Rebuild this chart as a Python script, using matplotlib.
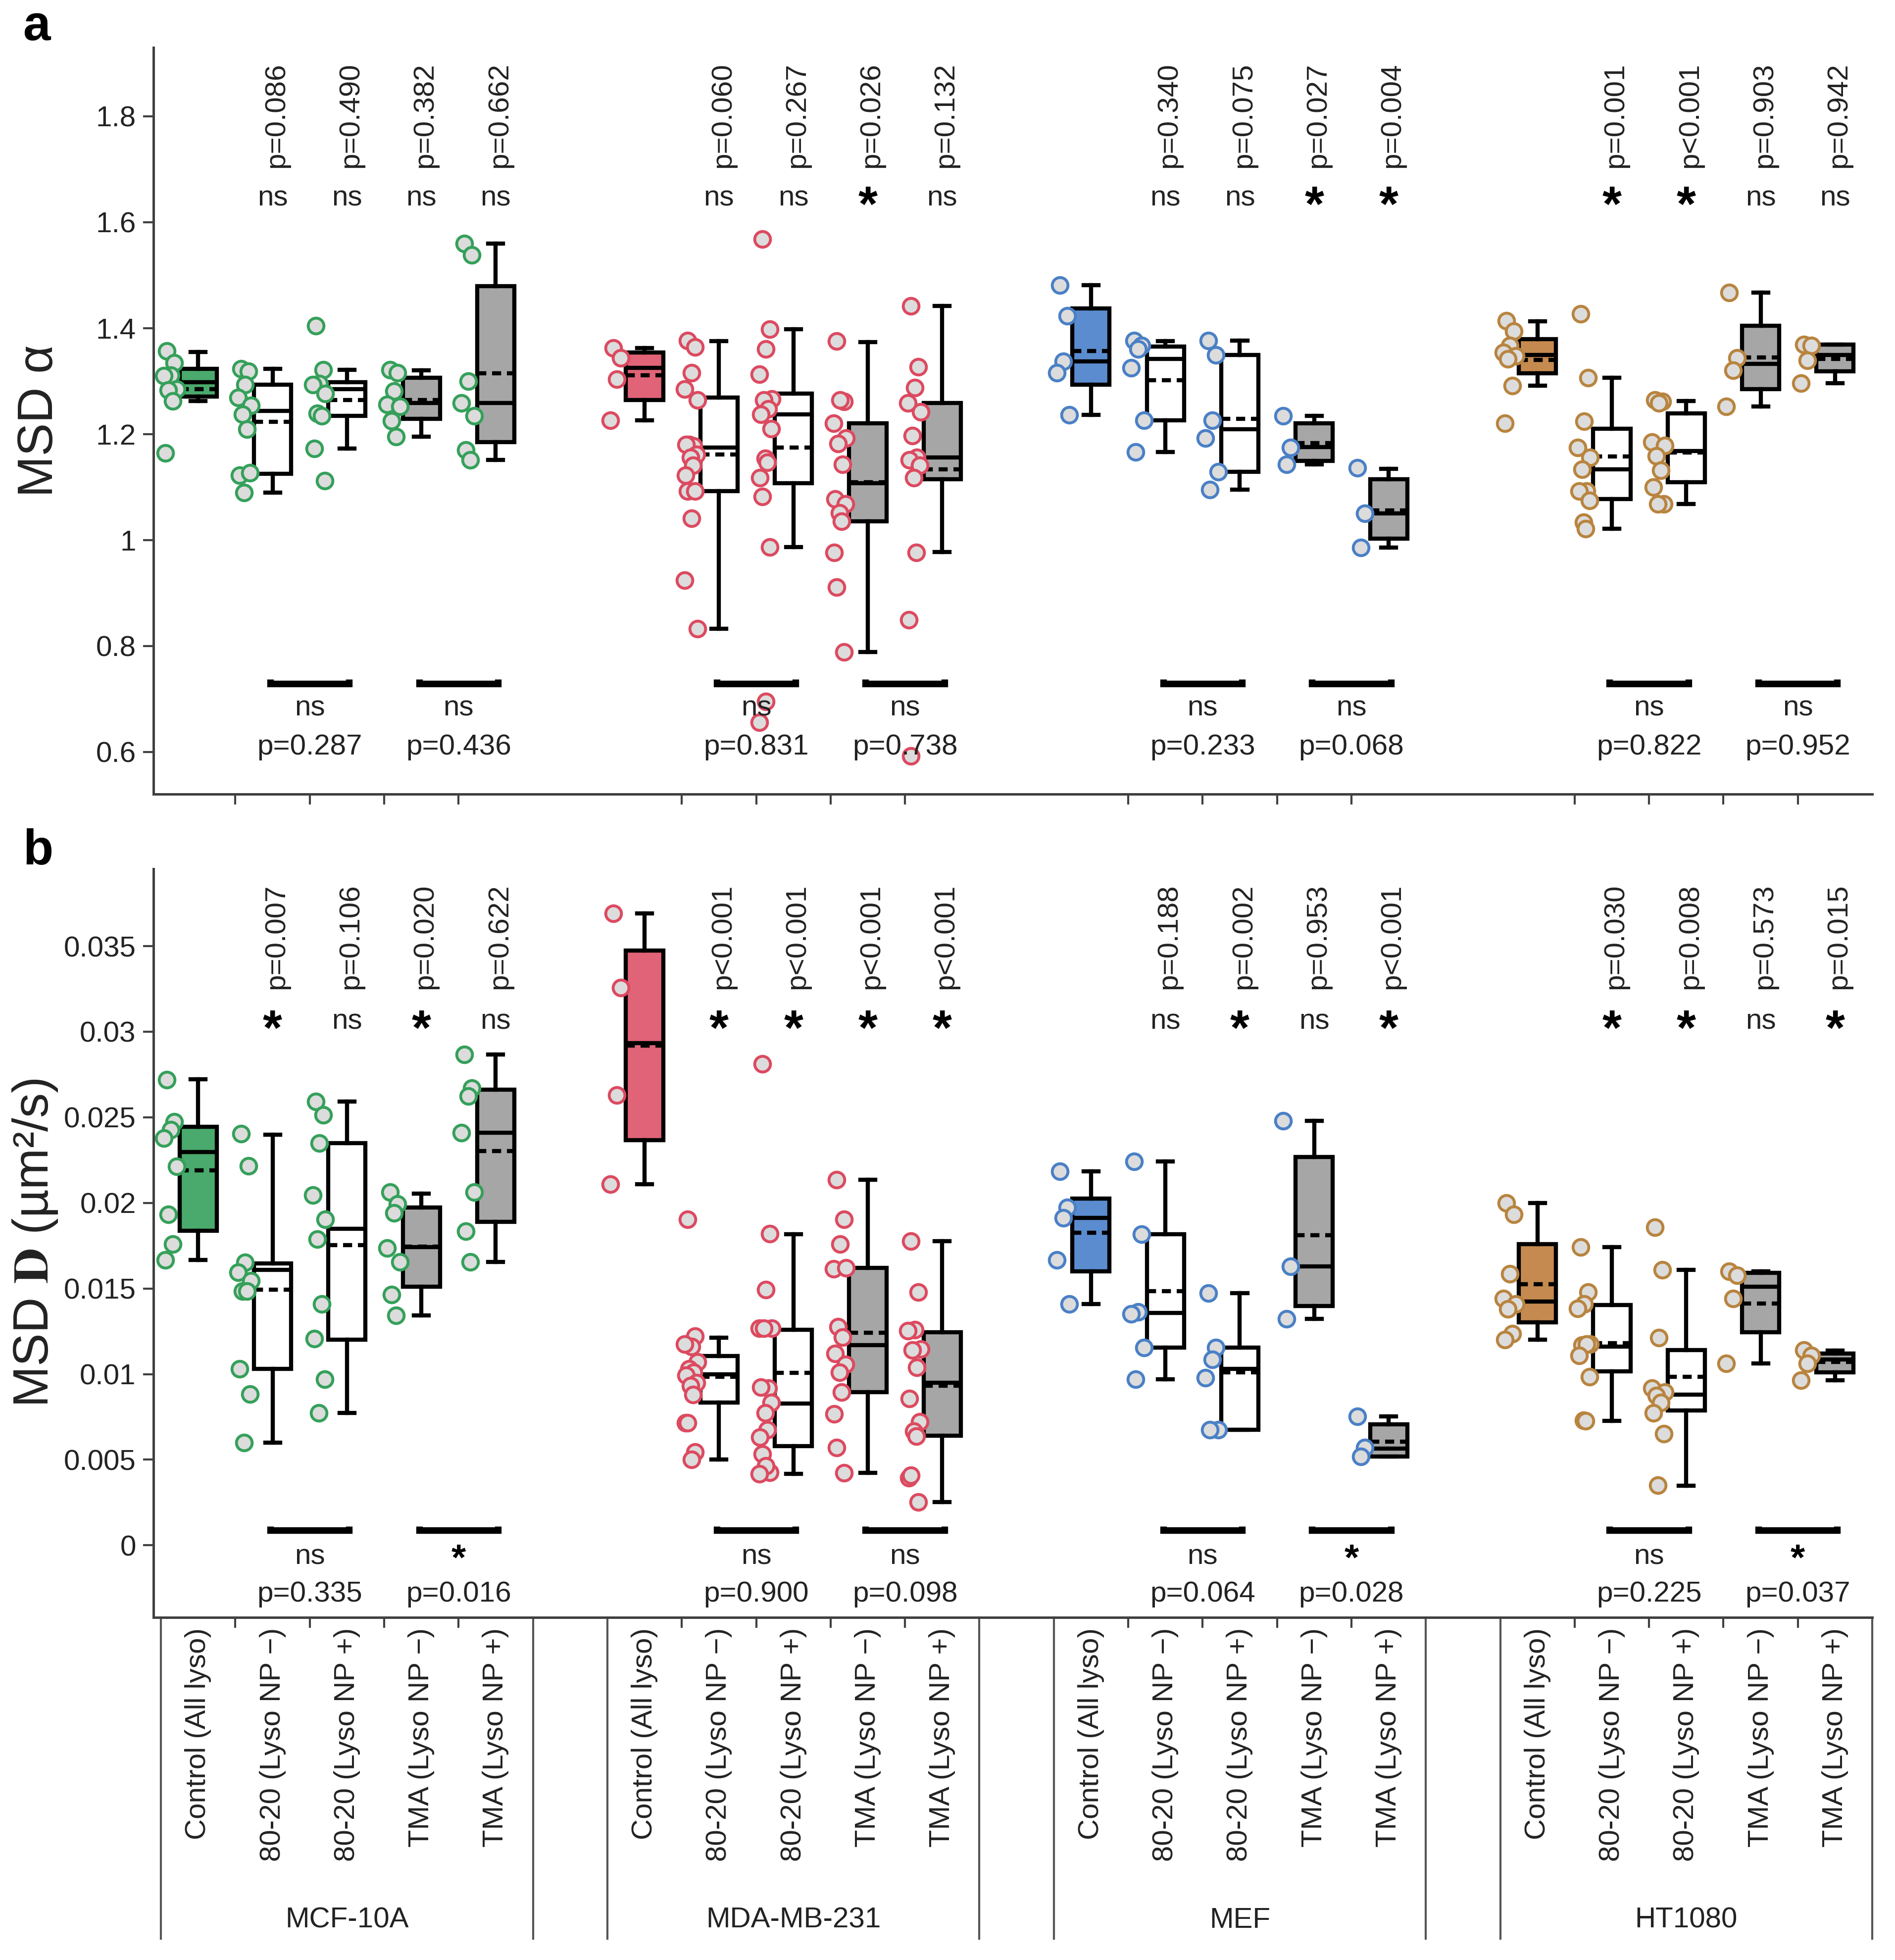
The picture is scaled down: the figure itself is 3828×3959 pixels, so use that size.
import numpy as np
import matplotlib
matplotlib.use('Agg')
import matplotlib.pyplot as plt
import matplotlib.transforms as mtransforms
from matplotlib.ticker import FuncFormatter

plt.rcParams['font.family'] = ['Liberation Sans', 'DejaVu Sans']
plt.rcParams['mathtext.fontset'] = 'stix'

# ---------------- data ----------------
groups = ['MCF-10A', 'MDA-MB-231', 'MEF', 'HT1080']
conditions = ['Control (All lyso)', '80-20 (Lyso NP \u2212)', '80-20 (Lyso NP +)',
              'TMA (Lyso NP \u2212)', 'TMA (Lyso NP +)']
group_fill = ['#4aa96c', '#e06377', '#5b8ccf', '#c48a4f']
group_edge = ['#35a05a', '#dc4a60', '#4a80c6', '#b8843f']

# MSD alpha, scatter points (group order x condition order)
alpha_points = [
    [1.357, 1.334, 1.311, 1.310, 1.285, 1.283, 1.262, 1.164],
    [1.323, 1.318, 1.293, 1.269, 1.254, 1.237, 1.209, 1.122, 1.127, 1.089],
    [1.404, 1.321, 1.295, 1.293, 1.276, 1.239, 1.234, 1.173, 1.112],
    [1.321, 1.316, 1.281, 1.256, 1.252, 1.225, 1.195],
    [1.560, 1.538, 1.300, 1.259, 1.234, 1.170, 1.151],
    [1.362, 1.344, 1.303, 1.226],
    [1.376, 1.364, 1.316, 1.285, 1.264, 1.180, 1.177, 1.180, 1.161, 1.156, 1.141, 1.122, 1.092, 1.092, 1.041, 0.924, 0.832],
    [1.568, 1.398, 1.360, 1.313, 1.266, 1.264, 1.247, 1.237, 1.210, 1.154, 1.146, 1.117, 1.082, 0.987, 0.695, 0.656],
    [1.375, 1.261, 1.264, 1.220, 1.192, 1.182, 1.143, 1.077, 1.068, 1.051, 1.035, 0.976, 0.911, 0.788],
    [1.442, 1.327, 1.288, 1.259, 1.242, 1.197, 1.156, 1.151, 1.141, 1.117, 0.976, 0.849, 0.592],
    [1.481, 1.423, 1.337, 1.316, 1.236],
    [1.376, 1.367, 1.360, 1.325, 1.226, 1.166],
    [1.376, 1.349, 1.226, 1.192, 1.129, 1.095],
    [1.234, 1.174, 1.143],
    [1.136, 1.050, 0.986],
    [1.414, 1.394, 1.367, 1.354, 1.347, 1.342, 1.291, 1.220],
    [1.427, 1.306, 1.224, 1.174, 1.156, 1.133, 1.092, 1.092, 1.074, 1.033, 1.021],
    [1.264, 1.261, 1.259, 1.185, 1.178, 1.159, 1.131, 1.100, 1.068, 1.068],
    [1.467, 1.344, 1.320, 1.252],
    [1.369, 1.367, 1.339, 1.296],
]
# box stats: (whisker low, q1, median, q3, whisker high, mean)
alpha_box = [
    (1.262, 1.271, 1.298, 1.323, 1.355, 1.285),
    (1.089, 1.125, 1.244, 1.293, 1.323, 1.223),
    (1.173, 1.234, 1.285, 1.298, 1.321, 1.264),
    (1.195, 1.229, 1.259, 1.306, 1.320, 1.264),
    (1.151, 1.185, 1.259, 1.479, 1.560, 1.315),
    (1.226, 1.264, 1.325, 1.354, 1.362, 1.311),
    (0.832, 1.092, 1.174, 1.269, 1.375, 1.161),
    (0.987, 1.107, 1.237, 1.276, 1.398, 1.174),
    (0.788, 1.035, 1.107, 1.220, 1.374, 1.109),
    (0.977, 1.115, 1.156, 1.259, 1.442, 1.133),
    (1.236, 1.293, 1.337, 1.437, 1.481, 1.357),
    (1.166, 1.226, 1.342, 1.365, 1.375, 1.302),
    (1.095, 1.129, 1.209, 1.349, 1.376, 1.229),
    (1.143, 1.149, 1.175, 1.220, 1.234, 1.183),
    (0.986, 1.002, 1.050, 1.115, 1.134, 1.056),
    (1.291, 1.315, 1.349, 1.379, 1.413, 1.340),
    (1.021, 1.077, 1.133, 1.210, 1.306, 1.158),
    (1.068, 1.109, 1.168, 1.239, 1.262, 1.165),
    (1.252, 1.285, 1.332, 1.404, 1.467, 1.345),
    (1.296, 1.318, 1.349, 1.369, 1.369, 1.342),
]
alpha_p_top = ['p=0.086', 'p=0.490', 'p=0.382', 'p=0.662',
               'p=0.060', 'p=0.267', 'p=0.026', 'p=0.132',
               'p=0.340', 'p=0.075', 'p=0.027', 'p=0.004',
               'p=0.001', 'p<0.001', 'p=0.903', 'p=0.942']
alpha_sig_top = ['ns', 'ns', 'ns', 'ns', 'ns', 'ns', '*', 'ns',
                 'ns', 'ns', '*', '*', '*', '*', 'ns', 'ns']
alpha_p_pair = ['p=0.287', 'p=0.436', 'p=0.831', 'p=0.738',
                'p=0.233', 'p=0.068', 'p=0.822', 'p=0.952']
alpha_sig_pair = ['ns'] * 8

# MSD D, scatter points
D_points = [
    [0.0272, 0.02473, 0.02427, 0.02379, 0.02212, 0.01933, 0.01758, 0.01667],
    [0.02403, 0.02215, 0.01652, 0.01594, 0.01545, 0.01485, 0.01485, 0.0103, 0.00882, 0.0060],
    [0.02591, 0.02515, 0.02348, 0.02045, 0.01903, 0.01788, 0.0141, 0.01206, 0.0097, 0.00773],
    [0.02064, 0.01994, 0.0194, 0.01736, 0.01655, 0.01464, 0.01342],
    [0.02867, 0.0267, 0.02624, 0.02409, 0.02064, 0.01833, 0.01655],
    [0.03691, 0.03258, 0.0263, 0.02109],
    [0.01903, 0.01221, 0.01161, 0.01176, 0.0107, 0.0103, 0.0101, 0.00994, 0.00948, 0.00933, 0.00879, 0.00715, 0.00715, 0.00545, 0.0050],
    [0.02812, 0.01821, 0.01494, 0.01267, 0.01267, 0.01267, 0.00918, 0.00924, 0.00833, 0.00773, 0.00676, 0.0063, 0.00533, 0.00427, 0.00464, 0.00418],
    [0.02136, 0.01903, 0.0176, 0.01615, 0.01621, 0.01276, 0.01215, 0.01121, 0.01055, 0.0101, 0.00894, 0.00767, 0.0057, 0.00424],
    [0.01776, 0.01479, 0.01258, 0.01252, 0.01145, 0.01139, 0.0104, 0.00858, 0.00721, 0.00667, 0.00636, 0.00394, 0.00409, 0.00252],
    [0.02185, 0.01973, 0.01912, 0.01667, 0.01409],
    [0.02242, 0.01818, 0.01364, 0.01352, 0.01155, 0.0097],
    [0.01473, 0.01155, 0.01085, 0.00979, 0.00676, 0.00676],
    [0.02479, 0.0163, 0.01321],
    [0.00752, 0.0057, 0.00518],
    [0.0200, 0.01933, 0.01585, 0.0144, 0.01409, 0.01379, 0.01236, 0.0120],
    [0.01742, 0.01479, 0.01409, 0.01382, 0.01176, 0.0117, 0.01176, 0.01109, 0.00985, 0.0073, 0.00727],
    [0.01858, 0.01609, 0.01212, 0.00918, 0.00894, 0.00873, 0.00833, 0.00773, 0.00652, 0.00352],
    [0.0160, 0.01576, 0.0144, 0.01061],
    [0.01139, 0.01109, 0.01061, 0.00964],
]
D_box = [
    (0.01667, 0.01836, 0.02297, 0.02445, 0.02721, 0.02191),
    (0.0060, 0.0103, 0.01609, 0.01645, 0.02397, 0.01494),
    (0.00773, 0.0120, 0.01848, 0.02348, 0.02591, 0.01752),
    (0.01342, 0.01509, 0.01742, 0.01973, 0.02055, 0.01745),
    (0.01655, 0.01888, 0.02409, 0.0266, 0.02867, 0.02303),
    (0.02109, 0.02367, 0.02933, 0.03473, 0.03691, 0.02918),
    (0.0050, 0.00833, 0.0100, 0.01106, 0.01212, 0.00985),
    (0.00418, 0.00579, 0.00827, 0.0126, 0.01818, 0.01006),
    (0.00424, 0.00894, 0.0117, 0.01621, 0.02136, 0.01242),
    (0.00252, 0.0064, 0.00948, 0.01245, 0.01776, 0.00933),
    (0.01409, 0.0160, 0.01912, 0.02024, 0.02185, 0.01827),
    (0.0097, 0.01155, 0.01358, 0.01818, 0.02242, 0.01485),
    (0.00676, 0.00676, 0.0103, 0.01155, 0.01473, 0.0101),
    (0.01321, 0.01397, 0.0163, 0.02267, 0.02479, 0.01812),
    (0.00518, 0.00518, 0.00564, 0.00706, 0.00752, 0.00606),
    (0.0120, 0.01303, 0.01424, 0.01758, 0.0200, 0.01524),
    (0.00727, 0.01015, 0.01161, 0.01403, 0.01742, 0.01182),
    (0.00348, 0.00788, 0.00879, 0.01139, 0.01609, 0.00985),
    (0.01061, 0.01245, 0.01509, 0.01591, 0.0160, 0.01412),
    (0.00964, 0.01009, 0.01085, 0.01121, 0.01136, 0.0107),
]
D_p_top = ['p=0.007', 'p=0.106', 'p=0.020', 'p=0.622',
           'p<0.001', 'p<0.001', 'p<0.001', 'p<0.001',
           'p=0.188', 'p=0.002', 'p=0.953', 'p<0.001',
           'p=0.030', 'p=0.008', 'p=0.573', 'p=0.015']
D_sig_top = ['*', 'ns', '*', 'ns', '*', '*', '*', '*',
             'ns', '*', 'ns', '*', '*', '*', 'ns', '*']
D_p_pair = ['p=0.335', 'p=0.016', 'p=0.900', 'p=0.098',
            'p=0.064', 'p=0.028', 'p=0.225', 'p=0.037']
D_sig_pair = ['ns', '*', 'ns', 'ns', 'ns', '*', 'ns', '*']

# ---------------- drawing ----------------
txt = '#222222'
jitter = [-0.42, -0.32, -0.37, -0.46, -0.29, -0.40, -0.34, -0.44, -0.30, -0.38, -0.35, -0.45]
box_fill = [None, 'white', 'white', '#a6a6a6', '#a6a6a6']


def draw_panel(ax, points, boxes, p_top, sig_top, p_pair, sig_pair, ylev):
    for g in range(4):
        for k in range(5):
            i = g * 5 + k
            x0 = 6 * g + k
            wlo, q1, med, q3, whi, mean = boxes[i]
            st = [dict(whislo=wlo, q1=q1, med=med, q3=q3, whishi=whi, mean=mean, fliers=[])]
            fc = group_fill[g] if k == 0 else box_fill[k]
            ax.bxp(st, positions=[x0], widths=0.5, patch_artist=True,
                   showmeans=True, meanline=True, showfliers=False, capwidths=0.2,
                   boxprops=dict(facecolor=fc, edgecolor='k', linewidth=2.0),
                   medianprops=dict(color='k', linewidth=2.0),
                   meanprops=dict(color='k', linewidth=2.0, linestyle=(0, (2.2, 1.4))),
                   whiskerprops=dict(color='k', linewidth=2.0),
                   capprops=dict(color='k', linewidth=2.0), zorder=2)
            ys = points[i]
            xs = [x0 + jitter[j % len(jitter)] for j in range(len(ys))]
            ax.scatter(xs, ys, s=58, facecolor='#dcdcdc', edgecolor=group_edge[g],
                       linewidth=1.4, zorder=3)
        # top comparisons vs control
        for k in range(1, 5):
            j = g * 4 + k - 1
            x0 = 6 * g + k
            ax.text(x0 + 0.05, ylev['ptop'], p_top[j], rotation=90, ha='center', va='bottom',
                    fontsize=14, color=txt)
            if sig_top[j] == '*':
                ax.text(x0, ylev['sig'] - ylev['stoff'], '*', ha='center', va='center',
                        fontsize=24, fontweight='bold', color='k')
            else:
                ax.text(x0, ylev['sig'], 'ns', ha='center', va='center', fontsize=14, color=txt)
        # bracket comparisons NP- vs NP+
        for b in range(2):
            j = g * 2 + b
            xa = 6 * g + 1 + 2 * b - 0.03
            xb = 6 * g + 2 + 2 * b + 0.03
            yb = ylev['br']
            d = ylev['cap']
            ax.plot([xa, xa, xb, xb], [yb + d, yb, yb, yb + d], color='k', lw=3.2,
                    solid_capstyle='butt', solid_joinstyle='miter', zorder=4)
            cx = (xa + xb) / 2
            if sig_pair[j] == '*':
                ax.text(cx, ylev['ns'] - ylev['stoff2'], '*', ha='center', va='center',
                        fontsize=18, fontweight='bold', color='k')
            else:
                ax.text(cx, ylev['ns'], 'ns', ha='center', va='center', fontsize=14, color=txt)
            ax.text(cx, ylev['pp'], p_pair[j], ha='center', va='center', fontsize=14, color=txt)

    ax.set_xlim(-0.6, 22.5)
    ax.set_xticks([6 * g + k + 0.5 for g in range(4) for k in range(4)])
    ax.set_xticklabels([])
    for s in ['top', 'right']:
        ax.spines[s].set_visible(False)
    for s in ['left', 'bottom']:
        ax.spines[s].set_color('#404040')
        ax.spines[s].set_linewidth(1.2)
    ax.tick_params(axis='both', direction='out', length=5, width=1.0, color='#404040',
                   labelsize=14, labelcolor=txt)
    ax.yaxis.set_major_formatter(FuncFormatter(lambda v, p: '%g' % round(v, 4)))


fig = plt.figure(figsize=(12.76, 13.197), dpi=300)
ax1 = fig.add_axes([0.081, 0.5948, 0.907, 0.381])
ax2 = fig.add_axes([0.081, 0.1749, 0.907, 0.3817])

draw_panel(ax1, alpha_points, alpha_box, alpha_p_top, alpha_sig_top, alpha_p_pair, alpha_sig_pair,
           dict(ptop=1.703, sig=1.645, br=0.729, cap=0.008, ns=0.682, stoff=0.018,
                stoff2=0.0, pp=0.609))
ax1.set_ylim(0.52, 1.93)
ax1.set_yticks([0.6, 0.8, 1.0, 1.2, 1.4, 1.6, 1.8])
ax1.set_ylabel('MSD \u03b1', fontsize=24, color=txt, labelpad=16)

draw_panel(ax2, D_points, D_box, D_p_top, D_sig_top, D_p_pair, D_sig_pair,
           dict(ptop=0.0325, sig=0.0306, br=0.00087, cap=0.00025, ns=-0.00066, stoff=0.0006,
                stoff2=0.0002, pp=-0.00284))
ax2.set_ylim(-0.0042, 0.0395)
ax2.set_yticks([0, 0.005, 0.01, 0.015, 0.02, 0.025, 0.03, 0.035])
ax2.set_ylabel('MSD $\\mathbf{D}$ (\u00b5m\u00b2/s)', fontsize=24, color=txt, labelpad=2)

# condition labels and group table under panel b
trans = mtransforms.blended_transform_factory(ax2.transData, ax2.transAxes)
for g in range(4):
    for k in range(5):
        ax2.text(6 * g + k, -0.014, conditions[k], rotation=90, ha='center', va='top',
                 fontsize=14, color=txt, transform=trans)
    ax2.text(6 * g + 2, -0.405, groups[g], ha='center', va='center', fontsize=14,
             color=txt, transform=trans)
    for xl in [6 * g - 0.5, 6 * g + 4.5]:
        ax2.plot([xl, xl], [0, -0.43], color='#555555', lw=1.0, transform=trans, clip_on=False)

fig.text(0.012, 0.986, 'a', fontsize=24, fontweight='bold', va='center')
fig.text(0.012, 0.5655, 'b', fontsize=24, fontweight='bold', va='center')

fig.savefig('out.png', dpi=300)
